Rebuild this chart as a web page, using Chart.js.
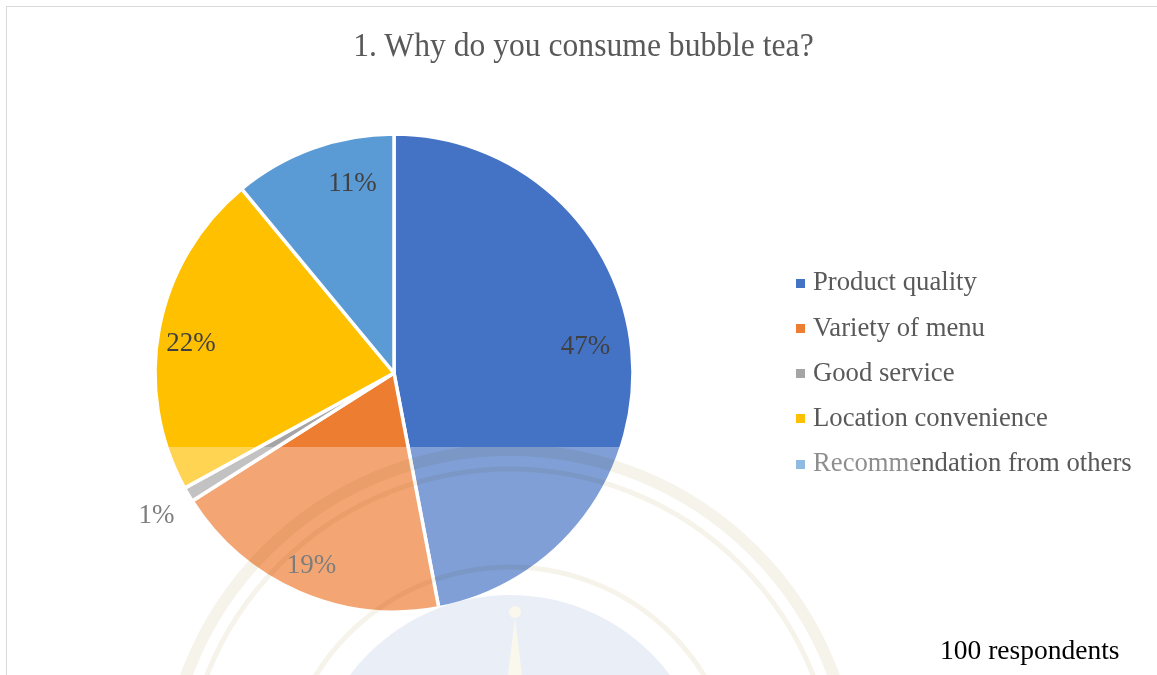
<!DOCTYPE html>
<html>
<head>
<meta charset="utf-8">
<title>1. Why do you consume bubble tea?</title>
<script src="https://cdn.jsdelivr.net/npm/chart.js@4.4.1/dist/chart.umd.min.js"></script>
<style>
  html, body { margin: 0; padding: 0; background: #fff; width: 1157px; height: 675px; overflow: hidden; }
  body { position: relative; font-family: "Liberation Serif", "Times New Roman", serif; }
  #frame { position: absolute; left: 6px; top: 6px; width: 1200px; height: 720px; border: 1.5px solid #d9d9d9; box-sizing: border-box; }
  #chart { position: absolute; left: 0; top: 0; }
  #title { position: absolute; left: 0; width: 1167px; top: 28px; text-align: center; font-size: 34px; line-height: 1;
           color: #595959; white-space: nowrap; transform: scaleX(0.93); transform-origin: 583px 0; }
  .lg-box { position: absolute; width: 9px; height: 9px; }
  .lg-text { position: absolute; font-size: 26.7px; line-height: 1; color: #595959; white-space: nowrap; }
  #note { position: absolute; left: 940px; top: 636px; font-size: 27.5px; line-height: 1; color: #000; white-space: nowrap; }
  #haze { position: absolute; left: 117px; top: 447px; width: 798px; height: 228px; background: rgba(255,255,255,0.32); pointer-events: none; }
  #seal { position: absolute; left: 0; top: 0; mix-blend-mode: multiply; pointer-events: none; }
</style>
</head>
<body>
<div id="frame"></div>
<canvas id="chart" width="1157" height="675"></canvas>
<div id="title">1. Why do you consume bubble tea?</div>
<div id="legend"></div>
<div id="note">100 respondents</div>
<div id="haze"></div>
<canvas id="seal" width="1157" height="675"></canvas>
<script>
// Survey answers (percent of 100 respondents)
const categories = ["Product quality", "Variety of menu", "Good service", "Location convenience", "Recommendation from others"];
const shares = [47, 19, 1, 22, 11];
const sliceColors = ["#4472C4", "#ED7D31", "#A5A5A5", "#FFC000", "#5B9BD5"];

// Where each percentage label sits: fraction of the radius and a small angular nudge (degrees)
const labelRadius = [0.81, 0.87, 1.155, 0.86, 0.82];
const labelNudge = [-3, 0, 0, -2, 7.6];

const pieLabels = {
  id: 'pieLabels',
  afterDatasetsDraw(chart) {
    const ctx = chart.ctx;
    const meta = chart.getDatasetMeta(0);
    const fs = 27;
    ctx.save();
    ctx.font = fs + 'px "Liberation Serif", "Times New Roman", serif';
    ctx.fillStyle = '#404040';
    ctx.textAlign = 'center';
    ctx.textBaseline = 'alphabetic';
    meta.data.forEach((arc, i) => {
      const p = arc.getProps(['x', 'y', 'startAngle', 'endAngle', 'outerRadius'], true);
      const mid = (p.startAngle + p.endAngle) / 2 + labelNudge[i] * Math.PI / 180;
      const r = p.outerRadius * labelRadius[i];
      const x = p.x + Math.cos(mid) * r;
      const y = p.y + Math.sin(mid) * r;
      ctx.fillText(chart.data.datasets[0].data[i] + '%', x, y + fs * 0.338);
    });
    ctx.restore();
  }
};

new Chart(document.getElementById('chart'), {
  type: 'pie',
  data: {
    labels: categories,
    datasets: [{
      data: shares,
      backgroundColor: sliceColors,
      borderColor: '#ffffff',
      borderWidth: 3.5,
      radius: 239
    }]
  },
  options: {
    responsive: false,
    animation: false,
    events: [],
    layout: { padding: { left: 94, right: 463, top: 73, bottom: 2 } },
    plugins: { legend: { display: false }, tooltip: { enabled: false }, title: { display: false } }
  },
  plugins: [pieLabels]
});

// Legend rows built from the same categories and colours
const legend = document.getElementById('legend');
categories.forEach((name, i) => {
  const baseline = 290.7 + 45.25 * i;
  const box = document.createElement('div');
  box.className = 'lg-box';
  box.style.left = '796px';
  box.style.top = (baseline - 12) + 'px';
  box.style.background = sliceColors[i];
  legend.appendChild(box);
  const txt = document.createElement('div');
  txt.className = 'lg-text';
  txt.style.left = '813px';
  txt.style.top = (baseline - 22.4) + 'px';
  txt.textContent = name;
  legend.appendChild(txt);
});

// Faint seal printed under the lower part of the page
(function drawSeal() {
  const c = document.getElementById('seal');
  const ctx = c.getContext('2d');
  const cx = 510, cy = 795;
  ctx.save();
  ctx.beginPath();
  ctx.rect(117, 447, 798, 228);
  ctx.clip();
  ctx.fillStyle = 'rgb(234,238,247)';
  ctx.beginPath(); ctx.arc(cx, cy, 200, 0, Math.PI * 2); ctx.fill();
  ctx.strokeStyle = 'rgb(246,243,234)';
  [[345, 12], [326, 5], [228, 5]].forEach(([r, w]) => {
    ctx.lineWidth = w;
    ctx.beginPath(); ctx.arc(cx, cy, r, 0, Math.PI * 2); ctx.stroke();
  });
  ctx.fillStyle = 'rgb(250,247,236)';
  ctx.beginPath(); ctx.arc(515, 612, 6, 0, Math.PI * 2); ctx.fill();
  ctx.beginPath(); ctx.moveTo(515, 618); ctx.lineTo(508, 675); ctx.lineTo(522, 675); ctx.closePath(); ctx.fill();
  ctx.restore();
})();
</script>
</body>
</html>
